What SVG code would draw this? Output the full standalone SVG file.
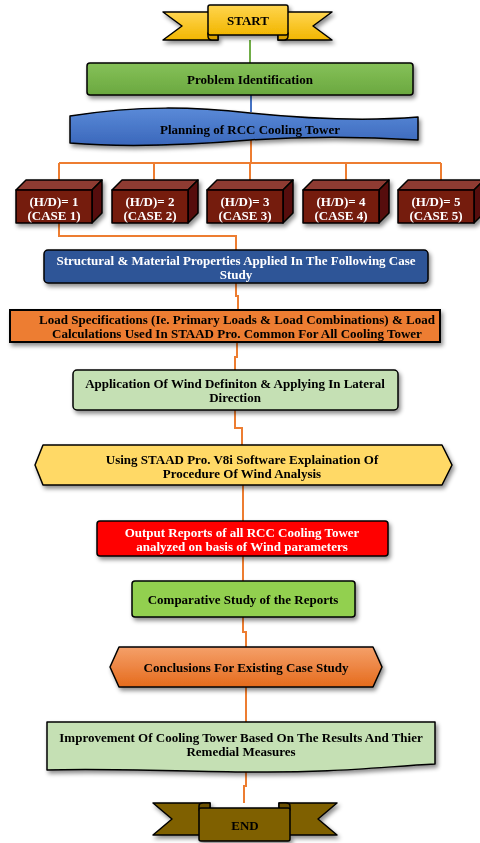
<svg xmlns="http://www.w3.org/2000/svg" width="480" height="843" viewBox="0 0 480 843">
<defs>
<filter id="sh" x="-10%" y="-20%" width="125%" height="160%">
<feDropShadow dx="2" dy="3" stdDeviation="2" flood-color="#000" flood-opacity="0.45"/>
</filter>
<linearGradient id="gGold" x1="0" y1="0" x2="0" y2="1"><stop offset="0" stop-color="#ffd54f"/><stop offset="1" stop-color="#f2b600"/></linearGradient>
<linearGradient id="gGreen" x1="0" y1="0" x2="0" y2="1"><stop offset="0" stop-color="#86c159"/><stop offset="1" stop-color="#6aa83f"/></linearGradient>
<linearGradient id="gBlue" x1="0" y1="0" x2="0" y2="1"><stop offset="0" stop-color="#5a8ad8"/><stop offset="1" stop-color="#3a67bb"/></linearGradient>
<linearGradient id="gOrange" x1="0" y1="0" x2="0" y2="1"><stop offset="0" stop-color="#f5a06a"/><stop offset="1" stop-color="#e56b1c"/></linearGradient>
<style>
.t{font-family:"Liberation Serif","Times New Roman",serif;font-weight:bold;font-size:13px;text-anchor:middle;dominant-baseline:central;fill:#000}
.w{fill:#fff}
.s{stroke:#000;stroke-width:1.5;stroke-linejoin:round}
.c{fill:none;stroke:#ed7d31;stroke-width:2}
.front{fill:#741a10}
.top{fill:#8e3b31}
.side{fill:#561109}
</style>
</defs>

<g id="connectors">
<path d="M250,40 V63" fill="none" stroke="#70ad47" stroke-width="2"/>
<path d="M251,95 V112" fill="none" stroke="#4472c4" stroke-width="2"/>
<path class="c" d="M251,140 V163 M59,163 H441 M59,163 V181 M154,163 V181 M250,163 V181 M346,163 V181 M441,163 V181"/>
<path class="c" d="M59,223 V236 H236 V250"/>
<path class="c" d="M236,283 V296 H238 V310"/>
<path class="c" d="M237,342 V357 H235 V370"/>
<path class="c" d="M235,410 V428 H242 V445"/>
<path class="c" d="M243,485 V521"/>
<path class="c" d="M243,556 V581"/>
<path class="c" d="M243,617 V632 H246 V647"/>
<path class="c" d="M246,687 V722"/>
<path class="c" d="M246,771 V786 H244 V803"/>
</g>

<g id="start" filter="url(#sh)">
<polygon class="s" points="163,12 218,12 218,40 163,40 182,26" fill="url(#gGold)"/>
<polygon class="s" points="332,12 278,12 278,40 332,40 313,26" fill="url(#gGold)"/>
<path class="s" d="M208,33 H218 V40 H212 Q208,40 208,36 Z" fill="#d9a000"/>
<path class="s" d="M288,33 H278 V40 H284 Q288,40 288,36 Z" fill="#d9a000"/>
<rect class="s" x="208" y="5" width="80" height="30" rx="2" fill="url(#gGold)"/>
<text class="t" x="248" y="20">START</text>
</g>

<g id="problem" filter="url(#sh)">
<rect class="s" x="87" y="63" width="326" height="32" rx="3" fill="url(#gGreen)"/>
<text class="t" x="250" y="79">Problem Identification</text>
</g>

<g id="planning" filter="url(#sh)">
<path class="s" d="M70,116 C140,105 195,107 250,113 C310,119 370,121 418,117 L418,140 C370,137 310,136 250,140 C190,145 130,148 70,143 Z" fill="url(#gBlue)"/>
<text class="t" x="250" y="129">Planning of RCC Cooling Tower</text>
</g>

<g id="case1" filter="url(#sh)" transform="translate(16,0)">
<polygon class="s top" points="0,190 10,180 86,180 76,190"/>
<polygon class="s side" points="76,190 86,180 86,213 76,223"/>
<rect class="s front" x="0" y="190" width="76" height="33"/>
<text class="t w" x="38" y="201">(H/D)= 1</text>
<text class="t w" x="38" y="215">(CASE 1)</text>
</g>
<g id="case2" filter="url(#sh)" transform="translate(112,0)">
<polygon class="s top" points="0,190 10,180 86,180 76,190"/>
<polygon class="s side" points="76,190 86,180 86,213 76,223"/>
<rect class="s front" x="0" y="190" width="76" height="33"/>
<text class="t w" x="38" y="201">(H/D)= 2</text>
<text class="t w" x="38" y="215">(CASE 2)</text>
</g>
<g id="case3" filter="url(#sh)" transform="translate(207,0)">
<polygon class="s top" points="0,190 10,180 86,180 76,190"/>
<polygon class="s side" points="76,190 86,180 86,213 76,223"/>
<rect class="s front" x="0" y="190" width="76" height="33"/>
<text class="t w" x="38" y="201">(H/D)= 3</text>
<text class="t w" x="38" y="215">(CASE 3)</text>
</g>
<g id="case4" filter="url(#sh)" transform="translate(303,0)">
<polygon class="s top" points="0,190 10,180 86,180 76,190"/>
<polygon class="s side" points="76,190 86,180 86,213 76,223"/>
<rect class="s front" x="0" y="190" width="76" height="33"/>
<text class="t w" x="38" y="201">(H/D)= 4</text>
<text class="t w" x="38" y="215">(CASE 4)</text>
</g>
<g id="case5" filter="url(#sh)" transform="translate(398,0)">
<polygon class="s top" points="0,190 10,180 86,180 76,190"/>
<polygon class="s side" points="76,190 86,180 86,213 76,223"/>
<rect class="s front" x="0" y="190" width="76" height="33"/>
<text class="t w" x="38" y="201">(H/D)= 5</text>
<text class="t w" x="38" y="215">(CASE 5)</text>
</g>

<g id="structural" filter="url(#sh)">
<rect class="s" x="44" y="250" width="384" height="33" rx="4" fill="#2f5597"/>
<text class="t w" x="236" y="260">Structural &amp; Material Properties Applied In The Following Case</text>
<text class="t w" x="236" y="274">Study</text>
</g>

<g id="load" filter="url(#sh)">
<rect x="10" y="310" width="430" height="32" fill="#ed7d31" stroke="#000" stroke-width="2"/>
<text class="t" x="237" y="319">Load Specifications (Ie. Primary Loads &amp; Load Combinations) &amp; Load</text>
<text class="t" x="237" y="333">Calculations Used In STAAD Pro. Common For All Cooling Tower</text>
</g>

<g id="application" filter="url(#sh)">
<rect class="s" x="73" y="370" width="325" height="40" rx="4" fill="#c5e0b4"/>
<text class="t" x="235" y="383">Application Of Wind Definiton &amp; Applying In Lateral</text>
<text class="t" x="235" y="397">Direction</text>
</g>

<g id="staad" filter="url(#sh)">
<polygon class="s" points="35,465 43,445 442,445 452,465 442,485 43,485" fill="#ffd966"/>
<text class="t" x="242" y="459">Using STAAD Pro. V8i Software Explaination Of</text>
<text class="t" x="242" y="473">Procedure Of Wind Analysis</text>
</g>

<g id="output" filter="url(#sh)">
<rect class="s" x="97" y="521" width="291" height="35" rx="3" fill="#ff0000"/>
<text class="t w" x="242" y="532">Output Reports of all RCC Cooling Tower</text>
<text class="t w" x="242" y="546">analyzed on basis of Wind parameters</text>
</g>

<g id="comparative" filter="url(#sh)">
<rect class="s" x="132" y="581" width="223" height="36" rx="3" fill="#92d050"/>
<text class="t" x="243" y="599">Comparative Study of the Reports</text>
</g>

<g id="conclusions" filter="url(#sh)">
<polygon class="s" points="110,667 119,647 373,647 382,667 373,687 119,687" fill="url(#gOrange)"/>
<text class="t" x="246" y="667">Conclusions For Existing Case Study</text>
</g>

<g id="improvement" filter="url(#sh)">
<path class="s" d="M47,722 H435 V764 C380,767 330,773 250,772 C170,771 100,768 47,770 Z" fill="#c5e0b4"/>
<text class="t" x="241" y="737">Improvement Of Cooling Tower Based On The Results And Thier</text>
<text class="t" x="241" y="751">Remedial Measures</text>
</g>

<g id="end" filter="url(#sh)">
<polygon class="s" points="153,803 210,803 210,835 153,835 172,819" fill="#7f6000"/>
<polygon class="s" points="337,803 279,803 279,835 337,835 318,819" fill="#7f6000"/>
<path class="s" d="M199,810 V806 Q199,803 203,803 H210 V810 Z" fill="#6a5000"/>
<path class="s" d="M290,810 V806 Q290,803 286,803 H279 V810 Z" fill="#6a5000"/>
<rect class="s" x="199" y="808" width="91" height="33" rx="2" fill="#7f6000"/>
<text class="t" x="245" y="825">END</text>
</g>
</svg>
